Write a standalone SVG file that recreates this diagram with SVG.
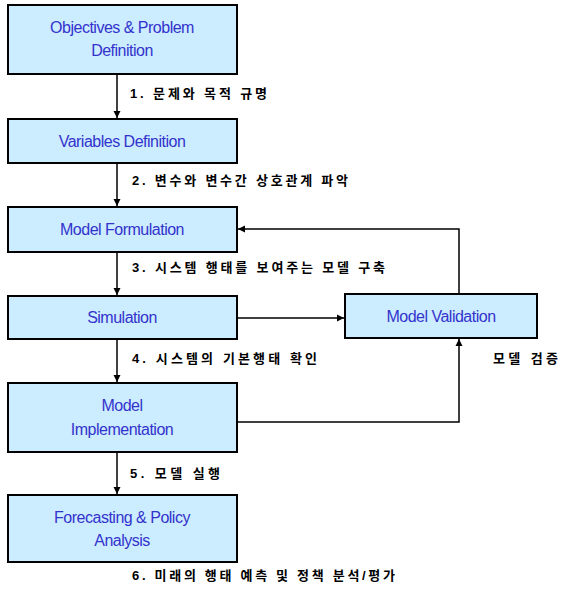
<svg xmlns="http://www.w3.org/2000/svg" width="570" height="597" viewBox="0 0 570 597">
<defs>
<marker id="ah" markerWidth="8" markerHeight="8" refX="7" refY="4" orient="auto" markerUnits="userSpaceOnUse">
<path d="M0,0.5 L7,4 L0,7.5 z" fill="#000"/>
</marker>
<style>
.box{fill:#CCECFF;stroke:#000;stroke-width:2}
.t{font-family:"Liberation Sans",Arial,sans-serif;font-size:16px;fill:#3333CC;text-anchor:middle;letter-spacing:-0.5px}
.k{font-family:"Liberation Sans","Noto Sans CJK KR",sans-serif;font-size:13px;font-weight:bold;fill:#000}
.c{fill:none;stroke:#000;stroke-width:1.5}
</style>
</defs>
<rect width="570" height="597" fill="#fff"/>
<g id="connectors">
<line class="c" x1="117" y1="74" x2="117" y2="118" marker-end="url(#ah)"/>
<line class="c" x1="117" y1="163" x2="117" y2="206" marker-end="url(#ah)"/>
<line class="c" x1="117" y1="252" x2="117" y2="295" marker-end="url(#ah)"/>
<line class="c" x1="117" y1="339" x2="117" y2="382" marker-end="url(#ah)"/>
<line class="c" x1="117" y1="452" x2="117" y2="494" marker-end="url(#ah)"/>
<line class="c" x1="237" y1="318" x2="344" y2="318" marker-end="url(#ah)"/>
<polyline class="c" points="459,294 459,229 238,229" marker-end="url(#ah)"/>
<polyline class="c" points="237,422 459,422 459,339" marker-end="url(#ah)"/>
<text class="k" x="130" y="98" textLength="137" lengthAdjust="spacing">1. 문제와 목적 규명</text>
<text class="k" x="132" y="185" textLength="216" lengthAdjust="spacing">2. 변수와 변수간 상호관계 파악</text>
<text class="k" x="132" y="272" textLength="253" lengthAdjust="spacing">3. 시스템 행태를 보여주는 모델 구축</text>
<text class="k" x="132" y="363" textLength="185" lengthAdjust="spacing">4. 시스템의 기본행태 확인</text>
<text class="k" x="493" y="363" textLength="65" lengthAdjust="spacing">모델 검증</text>
<text class="k" x="130" y="478" textLength="90" lengthAdjust="spacing">5. 모델 실행</text>
<text class="k" x="132" y="580" textLength="263" lengthAdjust="spacing">6. 미래의 행태 예측 및 정책 분석/평가</text>
</g>
<g id="n1"><rect class="box" x="8" y="5" width="229" height="69"/><text class="t" x="122" y="33">Objectives &amp; Problem</text><text class="t" x="122" y="56">Definition</text></g>
<g id="n2"><rect class="box" x="8" y="119" width="229" height="44"/><text class="t" x="122" y="147">Variables Definition</text></g>
<g id="n3"><rect class="box" x="8" y="207" width="229" height="45"/><text class="t" x="122" y="235">Model Formulation</text></g>
<g id="n4"><rect class="box" x="8" y="296" width="229" height="43"/><text class="t" x="122" y="323">Simulation</text></g>
<g id="n5"><rect class="box" x="345" y="294" width="192" height="44"/><text class="t" x="441" y="322">Model Validation</text></g>
<g id="n6"><rect class="box" x="8" y="383" width="229" height="69"/><text class="t" x="122" y="411">Model</text><text class="t" x="122" y="435">Implementation</text></g>
<g id="n7"><rect class="box" x="8" y="495" width="229" height="67"/><text class="t" x="122" y="523">Forecasting &amp; Policy</text><text class="t" x="122" y="546">Analysis</text></g>
</svg>
